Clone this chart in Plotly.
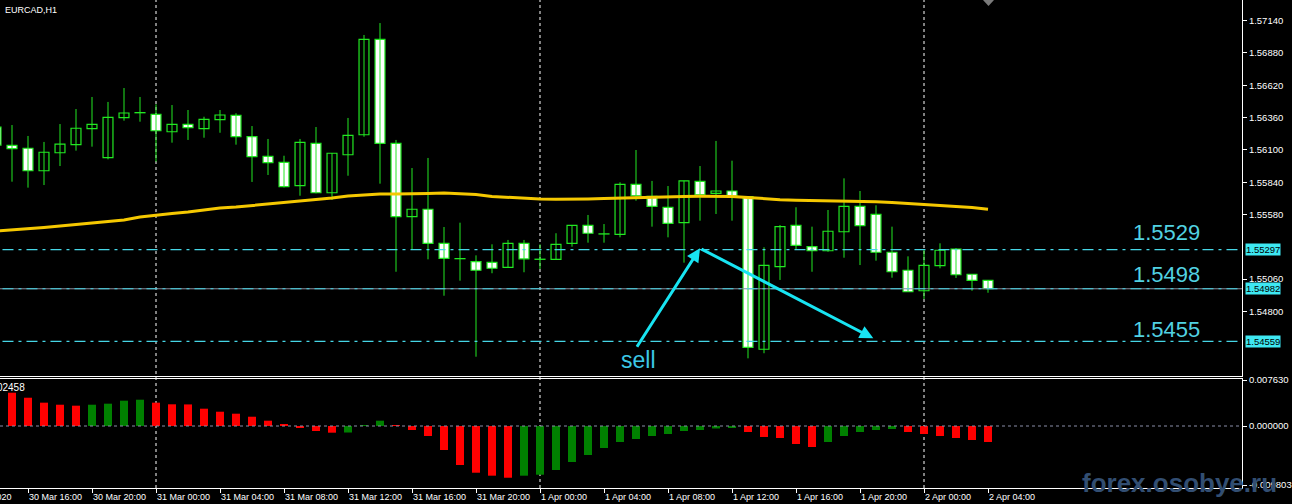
import plotly.graph_objects as go
import pandas as pd

# ---------------- data ----------------
times = pd.date_range("2020-03-30 14:00", periods=63, freq="h")

opens = [1.56284, 1.56137, 1.56113, 1.55932, 1.56077, 1.56142, 1.56271, 1.56037, 1.56359, 1.56399,
         1.56386, 1.56246, 1.56306, 1.56271, 1.56343, 1.56378, 1.56206, 1.56048, 1.56000, 1.55812,
         1.56153, 1.55755, 1.56061, 1.56222, 1.56990, 1.56153, 1.55562, 1.55622, 1.55348, 1.55224,
         1.55200, 1.55195, 1.55155, 1.55348, 1.55219, 1.55219, 1.55348, 1.55493, 1.55423, 1.55420,
         1.55823, 1.55726, 1.55638, 1.55514, 1.55847, 1.55750, 1.55769, 1.55723, 1.54495, 1.55160,
         1.55493, 1.55321, 1.55288, 1.55441, 1.55646, 1.55581, 1.55276, 1.55131, 1.54966, 1.55168,
         1.55302, 1.55099, 1.55050]
highs = [1.56341, 1.56300, 1.56212, 1.56164, 1.56308, 1.56429, 1.56526, 1.56486, 1.56598, 1.56526,
         1.56467, 1.56461, 1.56421, 1.56367, 1.56421, 1.56395, 1.56292, 1.56188, 1.56053, 1.56188,
         1.56284, 1.56074, 1.56357, 1.57025, 1.57121, 1.56180, 1.55954, 1.56035, 1.55479, 1.55514,
         1.55251, 1.55340, 1.55375, 1.55375, 1.55340, 1.55429, 1.55494, 1.55576, 1.55503, 1.55839,
         1.56099, 1.55850, 1.55809, 1.55851, 1.55970, 1.56172, 1.56013, 1.55724, 1.55316, 1.55495,
         1.55638, 1.55482, 1.55616, 1.55871, 1.55769, 1.55654, 1.55482, 1.55243, 1.55302, 1.55348,
         1.55310, 1.55101, 1.55051]
lows = [1.56099, 1.55844, 1.55796, 1.55817, 1.55970, 1.56094, 1.56126, 1.56024, 1.56335, 1.56327,
        1.56005, 1.56158, 1.56180, 1.56198, 1.56238, 1.56142, 1.55842, 1.55898, 1.55797, 1.55731,
        1.55750, 1.55697, 1.55892, 1.56206, 1.55828, 1.55119, 1.55294, 1.55219, 1.54926, 1.55047,
        1.54435, 1.55107, 1.55154, 1.55115, 1.55141, 1.55214, 1.55321, 1.55353, 1.55353, 1.55396,
        1.55691, 1.55482, 1.55396, 1.55192, 1.55530, 1.55584, 1.55530, 1.54422, 1.54463, 1.55053,
        1.55300, 1.55119, 1.55280, 1.55232, 1.55173, 1.55208, 1.55071, 1.54957, 1.54900, 1.55147,
        1.55069, 1.54966, 1.54950]
closes = [1.56139, 1.56110, 1.55932, 1.56081, 1.56147, 1.56274, 1.56306, 1.56362, 1.56397, 1.56400,
          1.56254, 1.56306, 1.56279, 1.56346, 1.56381, 1.56206, 1.56045, 1.55997, 1.55804, 1.56161,
          1.55755, 1.56073, 1.56217, 1.56990, 1.56153, 1.55562, 1.55622, 1.55348, 1.55227, 1.55225,
          1.55131, 1.55147, 1.55348, 1.55222, 1.55220, 1.55340, 1.55493, 1.55429, 1.55424, 1.55823,
          1.55731, 1.55646, 1.55509, 1.55850, 1.55739, 1.55769, 1.55729, 1.54511, 1.55171, 1.55482,
          1.55332, 1.55288, 1.55445, 1.55646, 1.55490, 1.55276, 1.55119, 1.54958, 1.55171, 1.55292,
          1.55095, 1.55050, 1.54982]
ma_values = [1.55447, 1.55455, 1.55463, 1.55475, 1.55487, 1.55499, 1.55511, 1.55524, 1.55536, 1.55560,
             1.55576, 1.55588, 1.55600, 1.55616, 1.55632, 1.55640, 1.55652, 1.55664, 1.55672, 1.55683,
             1.55697, 1.55713, 1.55729, 1.55737, 1.55745, 1.55745, 1.55745, 1.55749, 1.55753, 1.55749,
             1.55741, 1.55725, 1.55717, 1.55709, 1.55705, 1.55702, 1.55702, 1.55705, 1.55709, 1.55713,
             1.55717, 1.55721, 1.55721, 1.55725, 1.55726, 1.55726, 1.55725, 1.55717, 1.55705, 1.55699,
             1.55694, 1.55693, 1.55691, 1.55691, 1.55689, 1.55683, 1.55677, 1.55669, 1.55662, 1.55654,
             1.55644, 1.55636, 1.55622]
osma = [0.00580, 0.00552, 0.00469, 0.00387, 0.00353, 0.00337, 0.00353, 0.00370, 0.00420, 0.00436,
        0.00387, 0.00360, 0.00358, 0.00287, 0.00237, 0.00204, 0.00154, 0.00088, 0.00028, -0.00028,
        -0.00083, -0.00111, -0.00108, 0.00003, 0.00088, 0.00015, -0.00066, -0.00166, -0.00398, -0.00647,
        -0.00775, -0.00824, -0.00858, -0.00824, -0.00808, -0.00730, -0.00597, -0.00481, -0.00365, -0.00265,
        -0.00216, -0.00166, -0.00133, -0.00083, -0.00066, -0.00041, -0.00033, -0.00100, -0.00182, -0.00199,
        -0.00299, -0.00348, -0.00265, -0.00166, -0.00100, -0.00066, -0.00050, -0.00100, -0.00133, -0.00166,
        -0.00199, -0.00232, -0.00265]

level_lines = [1.55297, 1.54559]
bid_price = 1.54982
level_texts = ["1.5529", "1.5498", "1.5455"]

price_ticks = [1.57140, 1.56880, 1.56620, 1.56360, 1.56100, 1.55840, 1.55580, 1.55060, 1.54800]
osma_ticks = [0.007630, 0.0, -0.009803]
osma_ticktext = ["0.007630", "0.000000", "-0.009803"]

date_ticks = pd.date_range("2020-03-30 16:00", periods=16, freq="4h")
date_ticktext = ["30 Mar 16:00", "30 Mar 20:00", "31 Mar 00:00", "31 Mar 04:00", "31 Mar 08:00",
                 "31 Mar 12:00", "31 Mar 16:00", "31 Mar 20:00", "1 Apr 00:00", "1 Apr 04:00",
                 "1 Apr 08:00", "1 Apr 12:00", "1 Apr 16:00", "1 Apr 20:00", "2 Apr 00:00",
                 "2 Apr 04:00"]
day_starts = ["2020-03-31 00:00", "2020-04-01 00:00", "2020-04-02 00:00"]

# ---------------- style ----------------
W, H = 1292, 504
PW, PH = 1242, 488           # plot area in px
GREEN = "#22e822"
CYAN_LINE = "#46d6e6"
CYAN_TXT = "#52d2e2"
CYAN_ARROW = "#18e4f2"
FONT = "Liberation Sans"
HOUR_MS = 3600000


def px_x(px):
    return px / PW


def px_y(py):
    return 1 - py / PH


fig = go.Figure()

# wicks
wx, wy = [], []
for t, lo, hi in zip(times, lows, highs):
    wx += [t, t, None]
    wy += [lo, hi, None]
fig.add_trace(go.Scatter(x=wx, y=wy, mode="lines", line=dict(color=GREEN, width=1),
                         xaxis="x2", yaxis="y", hoverinfo="skip"))

# bodies
bases = [min(o, c) for o, c in zip(opens, closes)]
heights = [abs(c - o) for o, c in zip(opens, closes)]
fills = ["#000000" if c > o else "#ffffff" for o, c in zip(opens, closes)]
fig.add_trace(go.Bar(x=times, y=heights, base=bases, width=0.62 * HOUR_MS,
                     marker=dict(color=fills, line=dict(color=GREEN, width=1.2)),
                     xaxis="x2", yaxis="y", hoverinfo="skip"))

# moving average
fig.add_trace(go.Scatter(x=times, y=ma_values, mode="lines", line=dict(color="#f5c800", width=3),
                         xaxis="x2", yaxis="y", hoverinfo="skip"))

# OsMA histogram
osma_colors = []
for i, v in enumerate(osma):
    if i == 0:
        osma_colors.append("#ff0000")
    else:
        osma_colors.append("#008000" if v > osma[i - 1] else "#ff0000")
fig.add_trace(go.Bar(x=times, y=osma, width=0.5 * HOUR_MS, marker=dict(color=osma_colors, line=dict(width=0)),
                     xaxis="x", yaxis="y2", hoverinfo="skip"))

shapes = []
# day separators
for d in day_starts:
    shapes.append(dict(type="line", xref="x", yref="paper", x0=d, x1=d, y0=0, y1=1,
                       line=dict(color="#ffffff", width=1, dash="3px,3px"), layer="below"))
# bid line (grey) + cyan dash-dot levels
shapes.append(dict(type="line", xref="paper", yref="y", x0=0, x1=1, y0=bid_price, y1=bid_price,
                   line=dict(color="#8c8c9c", width=1)))
for lv in level_lines + [bid_price]:
    shapes.append(dict(type="line", xref="paper", yref="y", x0=0.002, x1=1, y0=lv, y1=lv,
                       line=dict(color=CYAN_LINE, width=1.2, dash="11px,5px,3px,5px")))
# OsMA zero line
shapes.append(dict(type="line", xref="paper", yref="y2", x0=0, x1=1, y0=0, y1=0,
                   line=dict(color="#8a8ea8", width=1, dash="3px,3px")))
# small shift marker at top
shapes.append(dict(type="path", xref="paper", yref="paper",
                   path=f"M {px_x(983)},{px_y(0)} L {px_x(994)},{px_y(0)} L {px_x(988.5)},{px_y(6)} Z",
                   fillcolor="#7a7a7a", line=dict(width=0)))

annotations = []
# title label
annotations.append(dict(xref="paper", yref="paper", x=px_x(3), y=px_y(10), xanchor="left", yanchor="middle",
                        text="EURCAD,H1", showarrow=False, font=dict(color="#ffffff", size=9, family=FONT)))
annotations.append(dict(xref="paper", yref="paper", x=px_x(27), y=px_y(387), xanchor="right", yanchor="middle",
                        text="0.002458", showarrow=False, font=dict(color="#ffffff", size=10, family=FONT)))
annotations.append(dict(xref="paper", yref="paper", x=px_x(14), y=px_y(497), xanchor="right", yanchor="middle",
                        text="30 Mar 2020", showarrow=False, font=dict(color="#ffffff", size=9, family=FONT)))
# big level texts
for txt, cy in zip(level_texts, [232, 274, 329]):
    annotations.append(dict(xref="paper", yref="paper", x=px_x(1131), y=px_y(cy), xanchor="left", yanchor="middle",
                            text=txt, showarrow=False, font=dict(color=CYAN_TXT, size=22, family=FONT)))
# right price boxes
for lv in level_lines + [bid_price]:
    annotations.append(dict(xref="paper", yref="y", x=px_x(1245), y=lv, xanchor="left", yanchor="middle",
                            text=f"{lv:.5f}", showarrow=False, bgcolor="#3ee8f2", borderpad=0,
                            font=dict(color="#000000", size=9.5, family=FONT)))
# sell text
annotations.append(dict(xref="paper", yref="paper", x=px_x(638.5), y=px_y(360), xanchor="center", yanchor="middle",
                        text="sell", showarrow=False, font=dict(color="#3cc8e6", size=23, family=FONT)))
# arrows
annotations.append(dict(xref="x2", yref="y", x="2020-04-01 10:00", y=1.55308,
                        axref="x2", ayref="y", ax="2020-04-01 06:00", ay=1.54503,
                        showarrow=True, arrowhead=2, arrowsize=0.9, arrowwidth=3, arrowcolor=CYAN_ARROW,
                        standoff=0, text=""))
annotations.append(dict(xref="x2", yref="y", x="2020-04-01 20:50", y=1.54583,
                        axref="x2", ayref="y", ax="2020-04-01 10:00", ay=1.55308,
                        showarrow=True, arrowhead=2, arrowsize=0.9, arrowwidth=3, arrowcolor=CYAN_ARROW,
                        standoff=0, text=""))
# watermark
annotations.append(dict(xref="paper", yref="paper", x=px_x(1080), y=px_y(483), xanchor="left", yanchor="middle",
                        text="<b>forex.osobye.ru</b>", showarrow=False,
                        font=dict(color="#324e72", size=26, family=FONT)))

x_range = ["2020-03-30 14:15", "2020-04-02 19:52:30"]

fig.update_layout(
    width=W, height=H,
    margin=dict(l=0, r=W - PW, t=0, b=H - PH, autoexpand=False),
    paper_bgcolor="#000000", plot_bgcolor="#000000",
    showlegend=False, hovermode=False, barmode="overlay",
    font=dict(family=FONT, color="#ffffff", size=9),
    xaxis=dict(domain=[0, 1], anchor="y2", range=x_range, type="date", automargin=False,
               tickvals=list(date_ticks), ticktext=date_ticktext, ticklabelposition="outside right",
               ticks="outside", ticklen=4, tickcolor="#ffffff", tickfont=dict(size=9, color="#ffffff"),
               showline=True, linecolor="#ffffff", linewidth=1, mirror=True,
               showgrid=False, zeroline=False),
    xaxis2=dict(domain=[0, 1], anchor="y", matches="x", range=x_range, type="date", automargin=False,
                showticklabels=False, ticks="", showline=True, linecolor="#ffffff", linewidth=1,
                showgrid=False, zeroline=False),
    yaxis=dict(domain=[(PH - 376) / PH, 1], anchor="x2", side="right", range=[1.542798, 1.573066],
               automargin=False,
               tickvals=price_ticks, ticktext=[f"{v:.5f}" for v in price_ticks],
               ticks="outside", ticklen=4, tickcolor="#ffffff", tickfont=dict(size=9.5, color="#ffffff"),
               showline=True, linecolor="#ffffff", linewidth=1, showgrid=False, zeroline=False),
    yaxis2=dict(domain=[0, (PH - 379) / PH], anchor="x", side="right", range=[-0.010284, 0.007796],
                automargin=False,
                tickvals=osma_ticks, ticktext=osma_ticktext,
                ticks="outside", ticklen=4, tickcolor="#ffffff", tickfont=dict(size=9.5, color="#ffffff"),
                showline=True, linecolor="#ffffff", linewidth=1, showgrid=False, zeroline=False),
    shapes=shapes,
    annotations=annotations,
)

fig.write_html("out.html", config={"displayModeBar": False},
               post_script="document.body.style.margin='0px';document.body.style.padding='0px';"
                           "document.body.style.background='#000000';")
